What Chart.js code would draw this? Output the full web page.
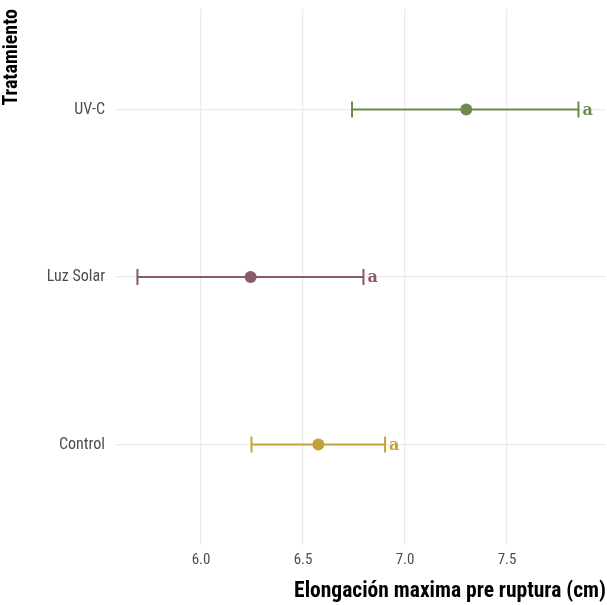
<!DOCTYPE html>
<html>
<head>
<meta charset="utf-8">
<script src="https://cdn.jsdelivr.net/npm/chart.js@4"></script>
<style>
  html, body { margin: 0; padding: 0; background: #fff; }
  #chart { display: block; }
</style>
</head>
<body>
<canvas id="chart" width="607" height="605"></canvas>
<script>
// treatments, bottom to top
const tratamientos = ["Control", "Luz Solar", "UV-C"];
const medias = [6.575, 6.243, 7.30];
const limInf = [6.247, 5.688, 6.74];
const limSup = [6.902, 6.796, 7.85];
const letras = ["a", "a", "a"];
const colores = ["#c4a13b", "#8a5a6c", "#6e8a4c"];
const xTicks = [6.0, 6.5, 7.0, 7.5];

const condensed = "'Roboto Condensed', 'Liberation Sans Narrow', 'DejaVu Sans Condensed', Roboto, sans-serif";

// one line dataset per error bar, caps drawn as rotated line points
const barras = tratamientos.map((t, i) => ({
  type: "line",
  data: [{ x: limInf[i], y: i + 1 }, { x: limSup[i], y: i + 1 }],
  borderColor: colores[i],
  borderWidth: 2,
  pointStyle: "line",
  rotation: 90,
  pointRadius: 8,
  pointBorderWidth: 2,
  pointBorderColor: colores[i],
  pointHoverRadius: 8,
}));

const puntos = {
  type: "scatter",
  data: medias.map((m, i) => ({ x: m, y: i + 1 })),
  pointRadius: 6,
  pointHoverRadius: 6,
  pointBackgroundColor: colores,
  pointBorderColor: colores,
  borderWidth: 0,
};

// letters next to upper limit
const letrasPlugin = {
  id: "letras",
  afterDatasetsDraw(chart) {
    const { ctx, scales } = chart;
    ctx.save();
    ctx.font = "bold 16px 'DejaVu Serif', 'Liberation Serif', serif";
    ctx.textAlign = "left";
    ctx.textBaseline = "middle";
    letras.forEach((l, i) => {
      ctx.fillStyle = colores[i];
      ctx.fillText(l, scales.x.getPixelForValue(limSup[i]) + 4, scales.y.getPixelForValue(i + 1) + 1);
    });
    ctx.restore();
  },
};

new Chart(document.getElementById("chart").getContext("2d"), {
  data: { datasets: [...barras, puntos] },
  options: {
    responsive: false,
    animation: false,
    // no auto padding for the cap radius, keep the panel flush right
    layout: { autoPadding: false, padding: { top: 9, right: 1, left: 0, bottom: 0 } },
    plugins: { legend: { display: false }, tooltip: { enabled: false } },
    scales: {
      x: {
        type: "linear",
        min: 5.578,
        max: 7.985,
        afterBuildTicks: (s) => { s.ticks = xTicks.map((v) => ({ value: v })); },
        afterFit: (s) => { s.height = 60; s.paddingLeft = 0; s.paddingRight = 0; },
        border: { display: false },
        grid: { color: "#ebebeb", lineWidth: 1.3, drawTicks: false },
        ticks: {
          padding: 6,
          color: "#4d4d4d",
          font: { family: condensed, size: 15 },
          callback: (v) => v.toFixed(1),
        },
        title: {
          display: true,
          text: "Elongación maxima pre ruptura (cm)",
          align: "end",
          color: "#000",
          font: { family: condensed, size: 21.5, weight: "bold" },
          padding: { top: 4, bottom: 0 },
        },
      },
      y: {
        type: "linear",
        min: 0.4,
        max: 3.6,
        afterBuildTicks: (s) => { s.ticks = tratamientos.map((t, i) => ({ value: i + 1 })); },
        afterFit: (s) => { s.width = 115; s.paddingTop = 0; s.paddingBottom = 0; },
        border: { display: false },
        grid: { color: "#ebebeb", lineWidth: 1.3, drawTicks: false },
        ticks: {
          padding: 10,
          color: "#4d4d4d",
          font: { family: condensed, size: 16 },
          callback: (v) => tratamientos[v - 1],
        },
        title: {
          display: true,
          text: "Tratamiento",
          align: "end",
          color: "#000",
          font: { family: condensed, size: 20, weight: "bold" },
          padding: { top: 0, bottom: 0 },
        },
      },
    },
  },
  plugins: [letrasPlugin],
});
</script>
</body>
</html>
